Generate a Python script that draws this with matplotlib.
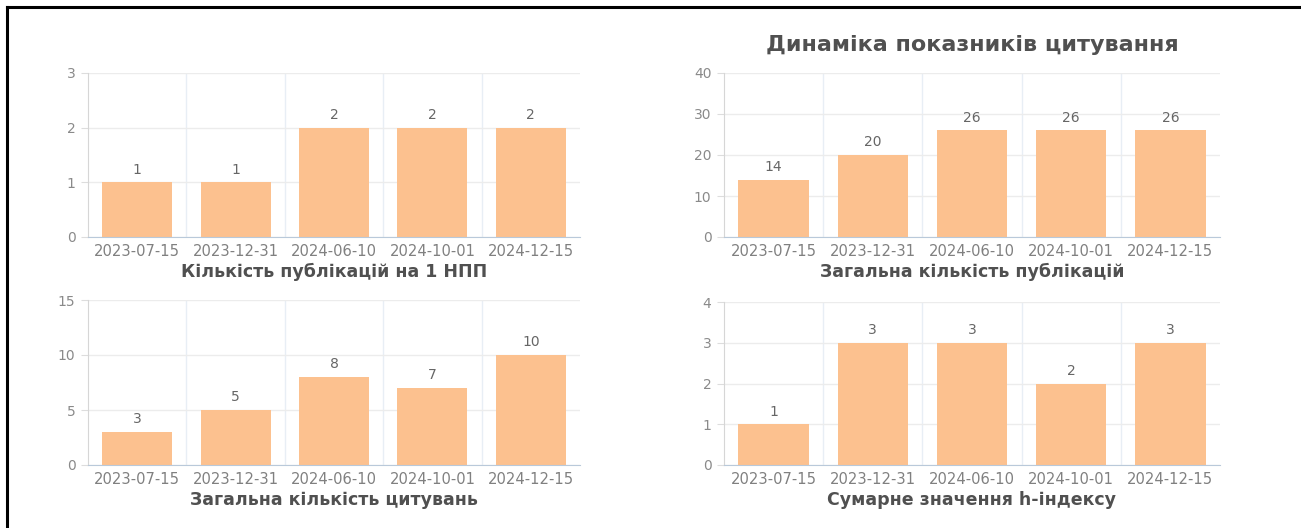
import numpy as np
import matplotlib.pyplot as plt
from matplotlib.lines import Line2D

plt.rcParams['font.family'] = ['DejaVu Sans']

dates = ['2023-07-15', '2023-12-31', '2024-06-10', '2024-10-01', '2024-12-15']
pubs_per_npp = [1, 1, 2, 2, 2]
total_pubs = [14, 20, 26, 26, 26]
total_cites = [3, 5, 8, 7, 10]
h_index_sum = [1, 3, 3, 2, 3]

titles = ['Кількість публікацій на 1 НПП', 'Загальна кількість публікацій',
          'Загальна кількість цитувань', 'Сумарне значення h-індексу']
y_max = [3, 40, 15, 4]
y_step = [1, 10, 5, 1]

W, H = 1301, 528
fig = plt.figure(figsize=(W / 100, H / 100), dpi=100)

bar_color = '#fcc18f'
text_gray = '#666666'

# axes boxes in pixels: left, zero-line y, right, top y
boxes = [(88, 237, 580, 73), (724, 237, 1220, 73),
         (88, 465, 580, 300), (724, 465, 1220, 302)]
series = [pubs_per_npp, total_pubs, total_cites, h_index_sum]

for (x0, y0, x1, y1), vals, ttl, ym, ys in zip(boxes, series, titles, y_max, y_step):
    ax = fig.add_axes([x0 / W, 1 - y0 / H, (x1 - x0) / W, (y0 - y1) / H])
    x = np.arange(len(dates))
    bars = ax.bar(x, vals, width=0.71, color=bar_color, zorder=2)
    ax.bar_label(bars, padding=4, fontsize=10, color=text_gray)
    ax.set_xlim(-0.5, len(dates) - 0.5)
    ax.set_ylim(0, ym)
    ax.set_yticks(np.arange(0, ym + ys, ys))
    ax.set_xticks(x)
    ax.set_xticklabels(dates, fontsize=10.6, color='#808080')
    ax.set_xticks(np.arange(0.5, len(dates) - 1, 1), minor=True)
    ax.tick_params(axis='x', which='both', length=0, pad=5)
    ax.tick_params(axis='y', length=5, color='#dddddd', labelsize=10,
                   labelcolor='#8a8a8a', pad=4)
    ax.grid(axis='y', which='major', color='#ececec', lw=1, zorder=0)
    ax.grid(axis='x', which='minor', color='#e8eef5', lw=1, zorder=0)
    for s in ['top', 'right']:
        ax.spines[s].set_visible(False)
    ax.spines['left'].set_color('#d6d6d6')
    ax.spines['bottom'].set_color('#b9c9da')
    ax.set_xlabel(ttl, fontsize=12.5, fontweight='bold', color='#505050', labelpad=3)

fig.text(972 / W, 1 - 45 / H, 'Динаміка показників цитування', ha='center', va='center',
         fontsize=16, fontweight='bold', color='#505050')

# frame of the screenshot (top and left edges)
fig.add_artist(Line2D([7 / W, 1], [1 - 7 / H, 1 - 7 / H], color='black', lw=2.2))
fig.add_artist(Line2D([7 / W, 7 / W], [0, 1 - 7 / H], color='black', lw=2.2))

fig.savefig('out.png', dpi=100, facecolor='white')
